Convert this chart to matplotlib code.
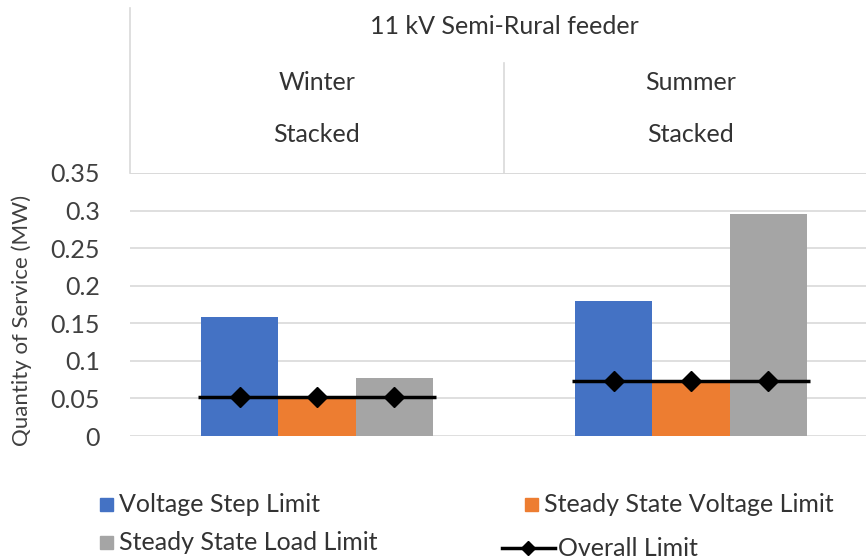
import matplotlib
matplotlib.use("Agg")
import matplotlib.pyplot as plt
from matplotlib.lines import Line2D
from matplotlib.patches import Rectangle
import numpy as np

# --- data ---
seasons = ["Winter", "Summer"]
sub_labels = ["Stacked", "Stacked"]
group_title = "11 kV Semi-Rural feeder"
series_names = ["Voltage Step Limit", "Steady State Voltage Limit", "Steady State Load Limit"]
voltage_step = [0.158, 0.179]
steady_voltage = [0.051, 0.073]
steady_load = [0.077, 0.296]
overall_limit = [0.052, 0.073]

colors = ["#4472C4", "#ED7D31", "#A5A5A5"]
grid_col = "#D9D9D9"
txt_col = "#333333"

plt.rcParams["font.family"] = ["Lato", "DejaVu Sans"]

W, H = 866, 559
fig = plt.figure(figsize=(W / 100, H / 100), dpi=100)

# axes in pixel coords (plot runs a bit past the right edge, like the source)
ax_l, ax_r, ax_t, ax_b = 130, 878, 173, 436
ax = fig.add_axes([ax_l / W, 1 - ax_b / H, (ax_r - ax_l) / W, (ax_b - ax_t) / H])

x = np.arange(len(seasons))
bw = 0.206
offsets = [-bw, 0, bw]
for vals, off, c in zip([voltage_step, steady_voltage, steady_load], offsets, colors):
    ax.bar(x + off, vals, width=bw, color=c, zorder=2)

# overall limit: one line per season, diamond at each bar centre
for i in range(len(seasons)):
    ax.plot([x[i] - 1.5 * bw - 0.01, x[i] + 1.5 * bw + 0.01], [overall_limit[i]] * 2,
            color="black", lw=2.5, zorder=3, solid_capstyle="butt")
    ax.plot(x[i] + np.array(offsets), [overall_limit[i]] * 3, ls="none",
            marker="D", ms=10, color="black", zorder=4)

ax.set_xlim(-0.5, 1.5)
ax.set_ylim(0, 0.35)
ax.set_yticks(np.arange(0, 0.351, 0.05))
ax.set_yticklabels(["0", "0.05", "0.1", "0.15", "0.2", "0.25", "0.3", "0.35"])
ax.tick_params(axis="y", length=0, labelsize=18, pad=21.5, labelcolor="#404040")
ax.set_xticks([])
ax.grid(axis="y", color=grid_col, lw=1.2, zorder=0)
ax.set_axisbelow(True)
for s in ax.spines.values():
    s.set_visible(False)
ax.axhline(0.35, color=grid_col, lw=1.2, zorder=0)
ax.set_ylabel("Quantity of Service (MW)", fontsize=16, color="#404040")
ax.yaxis.set_label_coords((32 - ax_l) / (ax_r - ax_l), (436 - 320) / (ax_b - ax_t))


def fx(px):
    return px / W


def fy(py):
    return 1 - py / H


# --- category header table above the plot ---
fig.add_artist(Line2D([fx(ax_l), fx(ax_l)], [fy(8), fy(ax_t)], color=grid_col, lw=1.2))
div_x = ax_l + (ax_r - ax_l) / 2
fig.add_artist(Line2D([fx(div_x), fx(div_x)], [fy(63), fy(ax_t)], color=grid_col, lw=1.2))
fig.text(fx(div_x), fy(27), group_title, ha="center", va="center", fontsize=18, color=txt_col)
for i, (s, sub) in enumerate(zip(seasons, sub_labels)):
    cx = ax_l + (i + 0.5) * (ax_r - ax_l) / 2
    fig.text(fx(cx), fy(82), s, ha="center", va="center", fontsize=18, color=txt_col)
    fig.text(fx(cx), fy(135), sub, ha="center", va="center", fontsize=18, color=txt_col)

# --- legend, placed by hand to copy the Excel layout ---
sq = 13
leg_items = [(106, 504, colors[0], series_names[0]),
             (106, 542, colors[2], series_names[2]),
             (531, 504, colors[1], series_names[1])]
for px, py, c, lab in leg_items:
    fig.add_artist(Rectangle((fx(px - sq / 2), fy(py + sq / 2)), sq / W, sq / H,
                             color=c, transform=fig.transFigure))
    fig.text(fx(px + 13), fy(py), lab, ha="left", va="center", fontsize=18, color=txt_col)

fig.add_artist(Line2D([fx(502), fx(555)], [fy(548), fy(548)], color="black", lw=2.5))
fig.add_artist(Line2D([fx(528)], [fy(548)], color="black", marker="D", ms=7))
fig.text(fx(558), fy(548), "Overall Limit", ha="left", va="center", fontsize=18, color=txt_col)

fig.savefig("out.png", dpi=100, facecolor="white")
